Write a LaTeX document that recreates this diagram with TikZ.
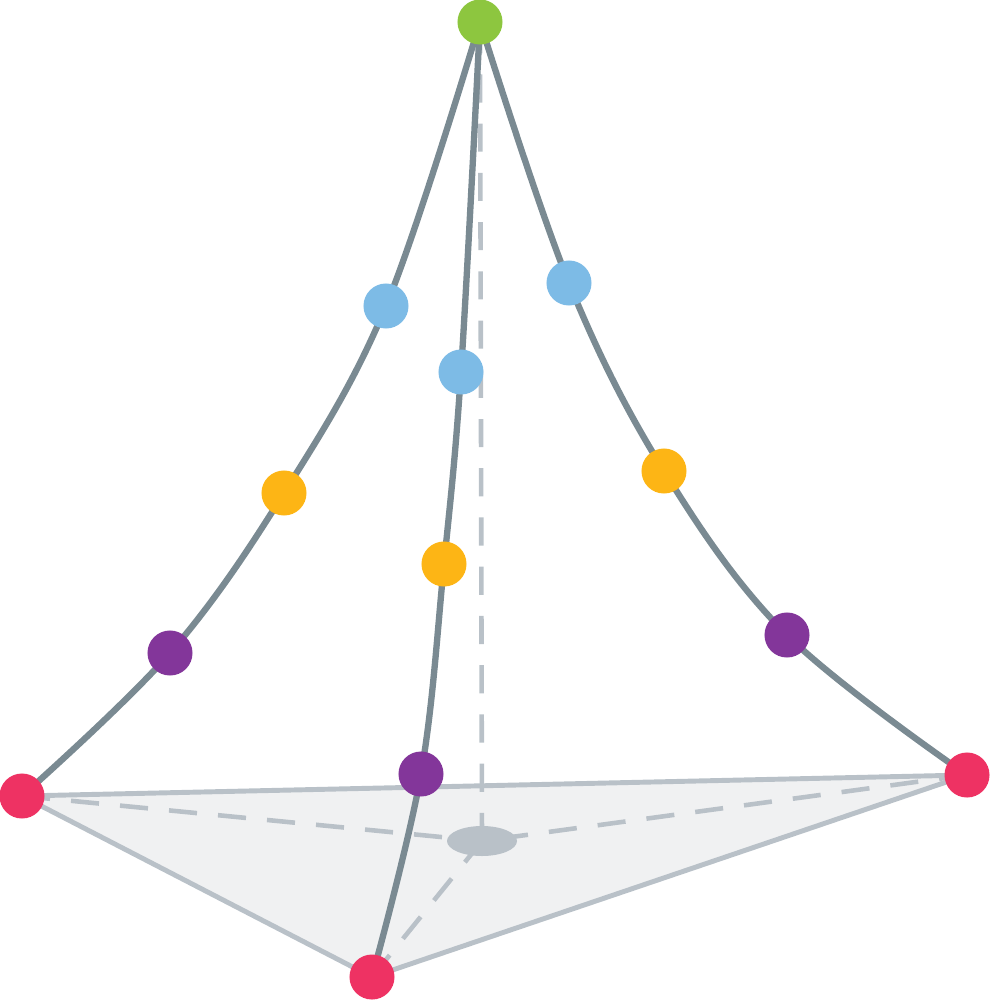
\documentclass[tikz,border=0pt]{standalone}
\definecolor{cg}{RGB}{141,198,63}
\definecolor{cb}{RGB}{125,187,230}
\definecolor{co}{RGB}{253,181,21}
\definecolor{cp}{RGB}{131,54,154}
\definecolor{cr}{RGB}{238,50,99}
\definecolor{cbase}{RGB}{185,193,200}
\definecolor{cfill}{RGB}{240,241,242}
\definecolor{ccurve}{RGB}{122,138,146}
\begin{document}
\begin{tikzpicture}[x=0.01cm,y=-0.01cm,
  dot/.style={circle,inner sep=0pt,minimum size=0.45cm},
  basel/.style={draw=cbase,line width=1.4pt},
  dsh/.style={draw=cbase,line width=1.3pt,dash pattern=on 8pt off 6pt},
  curv/.style={draw=ccurve,line width=1.8pt}]
\useasboundingbox (0,0) rectangle (995,1000);
\coordinate (A) at (480,22);
\coordinate (L) at (22,796);
\coordinate (R) at (967,775);
\coordinate (F) at (372,977);
\coordinate (C) at (482,841);
\fill[cfill] (L) -- (R) -- (F) -- cycle;
\draw[basel,line join=round] (L) -- (R) -- (F) -- cycle;
\draw[dsh] (L) -- (C) (R) -- (C) (F) -- (C) (C) -- (A);
\fill[cbase] (C) ellipse (35 and 15);
\draw[curv] plot[smooth,tension=0.6] coordinates {(480,22) (386,306) (284,493) (170,653) (22,796)};
\draw[curv] plot[smooth,tension=0.6] coordinates {(480,22) (569,283) (664,471) (787,635) (967,775)};
\draw[curv] plot[smooth,tension=0.6] coordinates {(480,22) (461,372) (444,564) (421,774) (372,977)};
\node[dot,fill=cg] (a) at (A) {};
\node[dot,fill=cr] (l) at (L) {};
\node[dot,fill=cr] (r) at (R) {};
\node[dot,fill=cr] (f) at (F) {};
\node[dot,fill=cb] (b1) at (386,306) {};
\node[dot,fill=co] (o1) at (284,493) {};
\node[dot,fill=cp] (p1) at (170,653) {};
\node[dot,fill=cb] (b2) at (569,283) {};
\node[dot,fill=co] (o2) at (664,471) {};
\node[dot,fill=cp] (p2) at (787,635) {};
\node[dot,fill=cb] (b3) at (461,372) {};
\node[dot,fill=co] (o3) at (444,564) {};
\node[dot,fill=cp] (p3) at (421,774) {};
\end{tikzpicture}
\end{document}
